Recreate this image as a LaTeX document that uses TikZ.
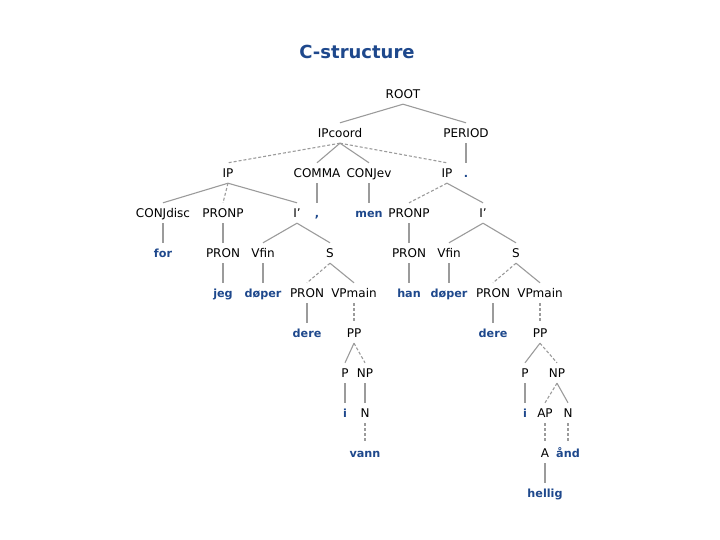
\documentclass[tikz,border=0pt]{standalone}
\usepackage{fontspec}
\setmainfont{DejaVu Sans}
\definecolor{wordblue}{RGB}{30,72,140}
\definecolor{edgegray}{RGB}{155,155,155}
\tikzset{
  lab/.style={inner xsep=1pt, inner ysep=5.75pt, text height=8.5pt, text depth=0pt,
    font=\fontsize{12}{14}\selectfont, text=black},
  word/.style={lab, font=\fontsize{11.2}{13}\selectfont\bfseries, text=wordblue},
  edge/.style={draw=edgegray, line width=1.1pt},
  dedge/.style={edge, dash pattern=on 3pt off 2pt},
}
\begin{document}
\begin{tikzpicture}[x=1pt,y=-1pt]
\useasboundingbox (0,0) rectangle (720,540);
\node[font=\fontsize{18}{20}\selectfont\bfseries, text=wordblue] (title) at (357,52) {C-structure};
% row 1-3
\node[lab] (root) at (403,94) {ROOT};
\node[lab] (ipc) at (340,133) {IPcoord};
\node[lab] (per) at (466,133) {PERIOD};
\node[lab] (ip1) at (228,173) {IP};
\node[lab] (comma) at (317,173) {COMMA};
\node[lab] (conjev) at (369,173) {CONJev};
\node[lab] (ip2) at (447,173) {IP};
\node[word] (dot) at (466,173) {.};
% row 4
\node[lab] (conjd) at (163,213) {CONJdisc};
\node[lab] (pronp1) at (223,213) {PRONP};
\node[lab] (ib1) at (297,213) {I'};
\node[word] (commaw) at (317,213) {,};
\node[word] (men) at (369,213) {men};
\node[lab] (pronp2) at (409,213) {PRONP};
\node[lab] (ib2) at (483,213) {I'};
% row 5
\node[word] (for) at (163,253) {for};
\node[lab] (pron1) at (223,253) {PRON};
\node[lab] (vfin1) at (263,253) {Vfin};
\node[lab] (s1) at (330,253) {S};
\node[lab] (pron2) at (409,253) {PRON};
\node[lab] (vfin2) at (449,253) {Vfin};
\node[lab] (s2) at (516,253) {S};
% row 6
\node[word] (jeg) at (223,293) {jeg};
\node[word] (doper1) at (263,293) {døper};
\node[lab] (pron3) at (307,293) {PRON};
\node[lab] (vpm1) at (354,293) {VPmain};
\node[word] (han) at (409,293) {han};
\node[word] (doper2) at (449,293) {døper};
\node[lab] (pron4) at (493,293) {PRON};
\node[lab] (vpm2) at (540,293) {VPmain};
% row 7
\node[word] (dere1) at (307,333) {dere};
\node[lab] (pp1) at (354,333) {PP};
\node[word] (dere2) at (493,333) {dere};
\node[lab] (pp2) at (540,333) {PP};
% row 8
\node[lab] (p1) at (345,373) {P};
\node[lab] (np1) at (365,373) {NP};
\node[lab] (p2) at (525,373) {P};
\node[lab] (np2) at (557,373) {NP};
% row 9
\node[word] (i1) at (345,413) {i};
\node[lab] (n1) at (365,413) {N};
\node[word] (i2) at (525,413) {i};
\node[lab] (ap) at (545,413) {AP};
\node[lab] (n2) at (568,413) {N};
% row 10
\node[word] (vann) at (365,453) {vann};
\node[lab] (a) at (545,453) {A};
\node[word] (aand) at (568,453) {ånd};
% row 11
\node[word] (hellig) at (545,493) {hellig};
% edges
\draw[edge] (root.south) -- (ipc.north);
\draw[edge] (root.south) -- (per.north);
\draw[dedge] (ipc.south) -- (ip1.north);
\draw[edge] (ipc.south) -- (comma.north);
\draw[edge] (ipc.south) -- (conjev.north);
\draw[dedge] (ipc.south) -- (ip2.north);
\draw[edge] (per.south) -- (dot.north);
\draw[edge] (ip1.south) -- (conjd.north);
\draw[dedge] (ip1.south) -- (pronp1.north);
\draw[edge] (ip1.south) -- (ib1.north);
\draw[edge] (comma.south) -- (commaw.north);
\draw[edge] (conjev.south) -- (men.north);
\draw[dedge] (ip2.south) -- (pronp2.north);
\draw[edge] (ip2.south) -- (ib2.north);
\draw[edge] (conjd.south) -- (for.north);
\draw[edge] (pronp1.south) -- (pron1.north);
\draw[edge] (ib1.south) -- (vfin1.north);
\draw[edge] (ib1.south) -- (s1.north);
\draw[edge] (pronp2.south) -- (pron2.north);
\draw[edge] (ib2.south) -- (vfin2.north);
\draw[edge] (ib2.south) -- (s2.north);
\draw[edge] (pron1.south) -- (jeg.north);
\draw[edge] (vfin1.south) -- (doper1.north);
\draw[dedge] (s1.south) -- (pron3.north);
\draw[edge] (s1.south) -- (vpm1.north);
\draw[edge] (pron2.south) -- (han.north);
\draw[edge] (vfin2.south) -- (doper2.north);
\draw[dedge] (s2.south) -- (pron4.north);
\draw[edge] (s2.south) -- (vpm2.north);
\draw[edge] (pron3.south) -- (dere1.north);
\draw[dedge] (vpm1.south) -- (pp1.north);
\draw[edge] (pron4.south) -- (dere2.north);
\draw[dedge] (vpm2.south) -- (pp2.north);
\draw[edge] (pp1.south) -- (p1.north);
\draw[dedge] (pp1.south) -- (np1.north);
\draw[edge] (pp2.south) -- (p2.north);
\draw[dedge] (pp2.south) -- (np2.north);
\draw[edge] (p1.south) -- (i1.north);
\draw[edge] (np1.south) -- (n1.north);
\draw[edge] (p2.south) -- (i2.north);
\draw[dedge] (np2.south) -- (ap.north);
\draw[edge] (np2.south) -- (n2.north);
\draw[dedge] (n1.south) -- (vann.north);
\draw[dedge] (ap.south) -- (a.north);
\draw[dedge] (n2.south) -- (aand.north);
\draw[edge] (a.south) -- (hellig.north);
\end{tikzpicture}
\end{document}
